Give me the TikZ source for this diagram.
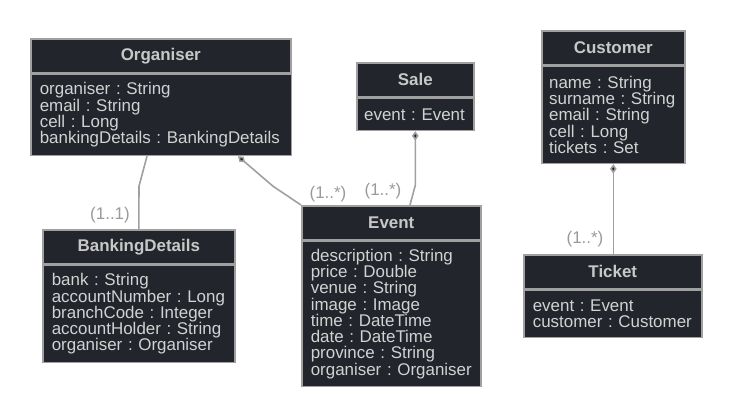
\documentclass[tikz,border=0pt]{standalone}
\usepackage{fontspec}
\setmainfont{Liberation Sans}
\usetikzlibrary{arrows.meta}
\definecolor{boxfill}{HTML}{22252B}
\definecolor{boxline}{HTML}{A0A0A0}
\definecolor{attrtext}{HTML}{D2D2D2}
\definecolor{headtext}{HTML}{C8C8C8}
\definecolor{multtext}{HTML}{9A9A9A}
\frenchspacing
\tikzset{
 classhead/.style={draw=boxline, fill=boxfill, line width=1.2pt, text=headtext,
   font=\fontsize{12.7}{12.2}\selectfont\bfseries, minimum height=25.5pt,
   inner sep=0pt, anchor=north west},
 classbody/.style={draw=boxline, fill=boxfill, line width=1.2pt, text=attrtext,
   font=\fontsize{12.7}{12.2}\selectfont\frenchspacing, align=left, inner xsep=6.75pt,
   inner ysep=4pt, anchor=north west},
 assoc/.style={draw=boxline, line width=1.2pt},
 owner/.style={{Diamond[length=7pt,width=5pt,fill=boxfill]}-},
 mult/.style={text=multtext, font=\fontsize{12.7}{14}\selectfont}
}
\begin{document}
\begin{tikzpicture}[x=0.75pt,y=-0.75pt]
\fill[white] (0,0) rectangle (732,415);
\useasboundingbox (0,0) rectangle (732,415);

% classes
\node[classhead,minimum width=195pt] (org) at (30,38) {Organiser};
\node[classbody,text width=182pt,minimum height=60.75pt] (orgbody) at (org.south west)
 {organiser : String\\email : String\\cell : Long\\bankingDetails : BankingDetails};

\node[classhead,minimum width=87.75pt] (sale) at (356,62) {Sale};
\node[classbody,inner xsep=5.5pt,text width=76.75pt,minimum height=24pt] (salebody) at (sale.south west)
 {event : Event};

\node[classhead,minimum width=107.25pt] (cust) at (541,30) {Customer};
\node[classbody,inner xsep=5.5pt,text width=96.25pt,minimum height=72.75pt] (custbody) at (cust.south west)
 {name : String\\surname : String\\email : String\\cell : Long\\tickets : Set};

\node[classhead,minimum width=144pt] (bank) at (42,229) {BankingDetails};
\node[classbody,text width=130.5pt,minimum height=72.75pt] (bankbody) at (bank.south west)
 {bank : String\\accountNumber : Long\\branchCode : Integer\\accountHolder : String\\organiser : Organiser};

\node[classhead,minimum width=134.25pt] (event) at (301,205) {Event};
\node[classbody,text width=120.75pt,minimum height=108.75pt] (eventbody) at (event.south west)
 {description : String\\price : Double\\venue : String\\image : Image\\time : DateTime\\date : DateTime\\province : String\\organiser : Organiser};

\node[classhead,minimum width=133.5pt] (ticket) at (523,254) {Ticket};
\node[classbody,text width=120pt,minimum height=35.25pt] (ticketbody) at (ticket.south west)
 {event : Event\\customer : Customer};

% associations
\draw[assoc] ([xshift=87.75pt]orgbody.south west) -- ++(-8,30) -- (bank.north);
\draw[assoc,owner] ([xshift=156pt]orgbody.south west) -- ++(35,30) -- (event.north west);
\draw[assoc,owner] (salebody.south) -- ++(0,54) -- ([xshift=81.75pt]event.north west);
\draw[assoc,owner] (custbody.south) -- (custbody.south |- ticket.north);

% multiplicities
\node[mult] (m1) at (110,215) {(1..1)};
\node[mult] (m2) at (328,194) {(1..*)};
\node[mult] (m3) at (383,191) {(1..*)};
\node[mult] (m4) at (585,239) {(1..*)};
\end{tikzpicture}
\end{document}
